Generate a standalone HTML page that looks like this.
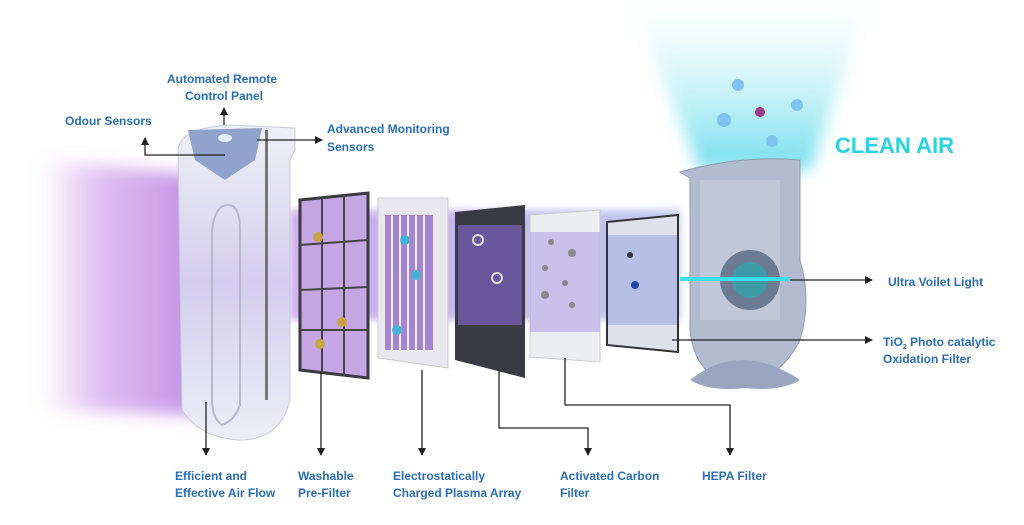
<!DOCTYPE html>
<html><head><meta charset="utf-8"><style>
html,body{margin:0;padding:0;background:#fff}
svg{display:block}
text{font-family:"Liberation Sans",sans-serif;font-weight:bold;fill:#2a6db5;font-size:12px}
</style></head><body>
<svg width="1024" height="525" viewBox="0 0 1024 525" xmlns="http://www.w3.org/2000/svg">
<defs>
<filter id="bl" x="-20%" y="-20%" width="140%" height="140%"><feGaussianBlur stdDeviation="8"/></filter>
<filter id="bl2" x="-20%" y="-20%" width="140%" height="140%"><feGaussianBlur stdDeviation="4"/></filter>
<linearGradient id="pl" x1="0" x2="1" y1="0" y2="0">
<stop offset="0" stop-color="#c98ee8" stop-opacity="0"/>
<stop offset="0.4" stop-color="#c98ee8" stop-opacity="0.6"/>
<stop offset="1" stop-color="#b47ce0" stop-opacity="0.85"/>
</linearGradient>
<linearGradient id="pb" x1="0" x2="1">
<stop offset="0" stop-color="#a96be0" stop-opacity="0.8"/>
<stop offset="1" stop-color="#8aa0e6" stop-opacity="0.8"/>
</linearGradient>
<linearGradient id="cy" x1="0" y1="1" x2="0" y2="0">
<stop offset="0" stop-color="#5ad8ea" stop-opacity="0.85"/>
<stop offset="1" stop-color="#bff0f6" stop-opacity="0"/>
</linearGradient>
<linearGradient id="unit" x1="0" y1="0" x2="0" y2="1">
<stop offset="0" stop-color="#eef0f6"/>
<stop offset="0.5" stop-color="#d4cdef"/>
<stop offset="1" stop-color="#eceef6"/>
</linearGradient>
<marker id="ar" markerWidth="8" markerHeight="8" refX="7" refY="4" orient="auto" markerUnits="userSpaceOnUse">
<path d="M0,0 L8,4 L0,8 z" fill="#222"/></marker>
</defs>
<!-- cyan beam -->
<polygon points="630,0 870,0 810,170 700,170" fill="url(#cy)" filter="url(#bl)"/>
<!-- purple beams -->
<polygon points="40,160 200,175 200,415 40,410" fill="url(#pl)" filter="url(#bl)"/>
<rect x="290" y="210" width="390" height="110" fill="url(#pb)" opacity="0.7" filter="url(#bl2)"/>
<!-- front unit -->
<path d="M178,150 Q180,128 230,125 L295,128 L295,150 L290,160 L290,400 Q280,440 240,440 Q200,438 182,410 Z" fill="url(#unit)" stroke="#c8cad8"/>
<path d="M212,230 Q215,205 228,205 Q240,205 240,230 L240,405 Q235,420 222,425 Q212,418 212,400 Z" fill="none" stroke="#b8b8cc" stroke-width="2"/>
<rect x="265" y="130" width="3" height="270" fill="#777"/>
<path d="M188,130 L262,128 L255,160 L225,180 L195,160 Z" fill="#8fa3cc"/>
<ellipse cx="225" cy="138" rx="7" ry="4" fill="#dfefff"/>
<!-- prefilter -->
<polygon points="300,200 368,193 368,378 300,370" fill="#c5a6e4" stroke="#3a3a40" stroke-width="3"/>
<line x1="322" y1="198" x2="322" y2="374" stroke="#444" stroke-width="2"/>
<line x1="344" y1="196" x2="344" y2="376" stroke="#444" stroke-width="2"/>
<line x1="300" y1="245" x2="368" y2="240" stroke="#444" stroke-width="2"/>
<line x1="300" y1="290" x2="368" y2="287" stroke="#444" stroke-width="2"/>
<line x1="300" y1="330" x2="368" y2="330" stroke="#444" stroke-width="2"/>
<circle cx="318" cy="237" r="5" fill="#c9a24a"/><circle cx="342" cy="322" r="5" fill="#c9a24a"/><circle cx="320" cy="344" r="5" fill="#c9a24a"/>
<!-- electrostatic -->
<polygon points="378,198 448,198 448,368 378,358" fill="#e8e8ee" stroke="#ccc"/>
<rect x="385" y="215" width="48" height="135" fill="#a585d0"/>
<g stroke="#eee" stroke-width="2"><line x1="392" y1="215" x2="392" y2="350"/><line x1="400" y1="215" x2="400" y2="350"/><line x1="408" y1="215" x2="408" y2="350"/><line x1="416" y1="215" x2="416" y2="350"/><line x1="424" y1="215" x2="424" y2="350"/></g>
<circle cx="405" cy="240" r="5" fill="#4ab0d8"/><circle cx="416" cy="275" r="5" fill="#4ab0d8"/><circle cx="397" cy="330" r="5" fill="#4ab0d8"/>
<!-- carbon -->
<polygon points="455,212 525,205 525,378 455,360" fill="#3a3a44"/>
<rect x="458" y="225" width="64" height="100" fill="#7a62b8" opacity="0.75"/>
<circle cx="478" cy="240" r="5" fill="none" stroke="#ddd" stroke-width="2"/><circle cx="497" cy="278" r="5" fill="none" stroke="#ddd" stroke-width="2"/>
<!-- activated carbon white -->
<polygon points="530,215 600,210 600,362 530,357" fill="#eceef2" stroke="#ccc"/>
<rect x="530" y="232" width="70" height="100" fill="#b2a4e6" opacity="0.6"/>
<g fill="#888"><circle cx="551" cy="242" r="3"/><circle cx="572" cy="253" r="4"/><circle cx="545" cy="268" r="3"/><circle cx="565" cy="283" r="3"/><circle cx="545" cy="295" r="4"/><circle cx="572" cy="305" r="3"/></g>
<!-- TiO2 -->
<polygon points="607,222 678,215 678,352 607,345" fill="#dfe2ec" stroke="#333" stroke-width="2"/>
<rect x="608" y="235" width="69" height="90" fill="#8e9ee0" opacity="0.5"/>
<circle cx="635" cy="285" r="4" fill="#2244aa"/><circle cx="630" cy="255" r="3" fill="#334"/>
<!-- back unit -->
<path d="M680,172 Q740,155 800,160 L800,260 Q812,300 800,340 Q780,380 740,385 Q695,380 690,330 L690,178 Z" fill="#b2bbd0" stroke="#8f99b0"/>
<rect x="700" y="180" width="80" height="140" fill="#c0c7d8"/>
<circle cx="750" cy="280" r="30" fill="#6c7a92"/>
<circle cx="750" cy="280" r="18" fill="#3f9aa8"/>
<rect x="680" y="277" width="110" height="4" fill="#3ce0ea"/>
<path d="M690,380 Q740,340 800,380 Q780,392 745,388 Q710,392 690,380 Z" fill="#9aa6c0"/>
<!-- flowers -->
<g fill="#7fc4f0"><circle cx="738" cy="85" r="6"/><circle cx="724" cy="120" r="7"/><circle cx="797" cy="105" r="6"/><circle cx="772" cy="141" r="6"/></g>
<circle cx="760" cy="112" r="5" fill="#a03a8a"/>
<text x="835" y="153" style="font-size:22px;fill:#2ad2e2">CLEAN AIR</text>
<!-- connectors -->
<g stroke="#222" stroke-width="1.3" fill="none">
<polyline points="225,155 145,155 145,138" marker-end="url(#ar)"/>
<line x1="224" y1="125" x2="224" y2="108" marker-end="url(#ar)"/>
<line x1="257" y1="140" x2="322" y2="140" marker-end="url(#ar)"/>
<line x1="206" y1="402" x2="206" y2="455" marker-end="url(#ar)"/>
<line x1="321" y1="372" x2="321" y2="455" marker-end="url(#ar)"/>
<line x1="422" y1="370" x2="422" y2="455" marker-end="url(#ar)"/>
<polyline points="499,370 499,428 588,428 588,455" marker-end="url(#ar)"/>
<polyline points="565,358 565,405 730,405 730,455" marker-end="url(#ar)"/>
<line x1="790" y1="280" x2="872" y2="280" marker-end="url(#ar)"/>
<line x1="672" y1="340" x2="872" y2="340" marker-end="url(#ar)"/>
</g>
<!-- labels -->
<text x="167" y="83">Automated Remote</text>
<text x="185" y="100">Control Panel</text>
<text x="65" y="125">Odour Sensors</text>
<text x="327" y="133">Advanced Monitoring</text>
<text x="327" y="151">Sensors</text>
<text x="888" y="286">Ultra Voilet Light</text>
<text x="883" y="346">TiO<tspan style="font-size:7px" dy="3">2</tspan><tspan dy="-3"> Photo catalytic</tspan></text>
<text x="883" y="363">Oxidation Filter</text>
<text x="175" y="480">Efficient and</text>
<text x="175" y="497">Effective Air Flow</text>
<text x="298" y="480">Washable</text>
<text x="298" y="497">Pre-Filter</text>
<text x="393" y="480">Electrostatically</text>
<text x="393" y="497">Charged Plasma Array</text>
<text x="560" y="480">Activated Carbon</text>
<text x="560" y="497">Filter</text>
<text x="702" y="480">HEPA Filter</text>
</svg>
</body></html>
